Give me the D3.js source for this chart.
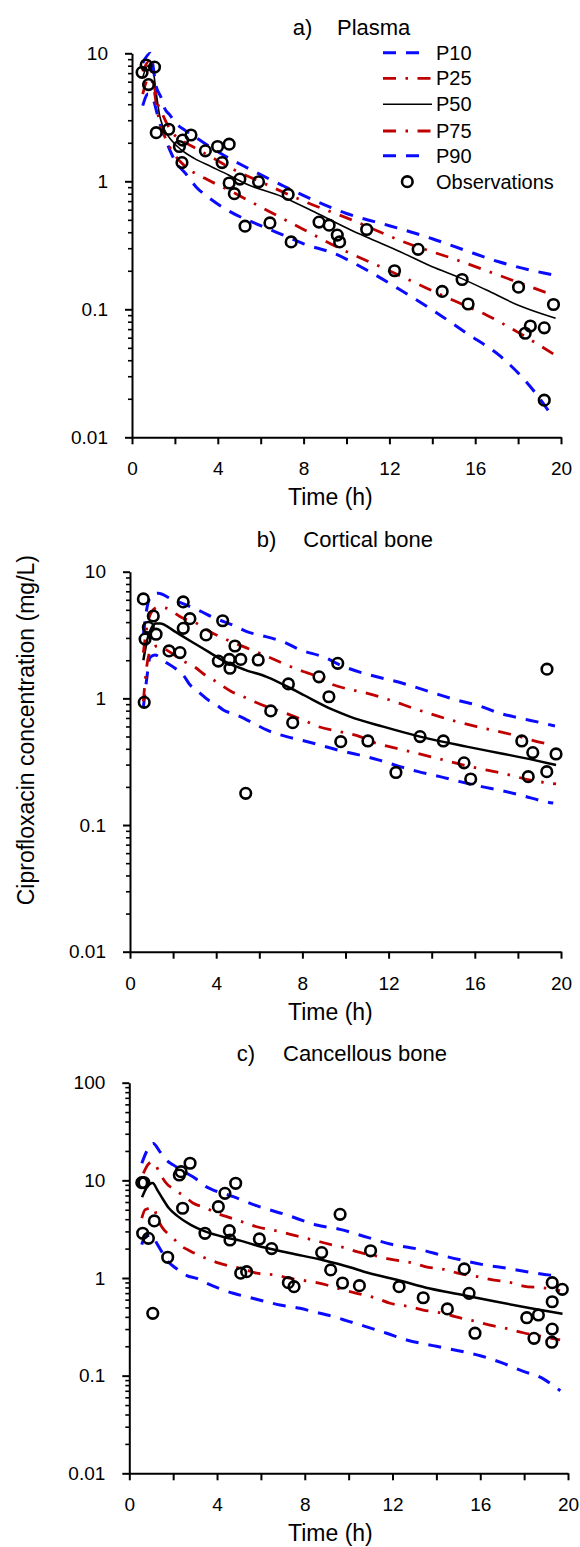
<!DOCTYPE html>
<html><head><meta charset="utf-8">
<script src="https://cdn.jsdelivr.net/npm/d3@7"></script>
<style>
body{margin:0;background:#fff}
svg{display:block}
text{font-family:"Liberation Sans",Arial,sans-serif;fill:#000}
</style></head><body>
<svg id="chart" width="580" height="1547"></svg>
<script>
// ---------- DATA ----------
const seriesNames = ["P10","P25","P50","P75","P90","Observations"];
const panelTitles = [["a)","Plasma"],["b)","Cortical bone"],["c)","Cancellous bone"]];
const xTickValues = [0,2,4,6,8,10,12,14,16,18,20];
const xTickLabels = ["0","","4","","8","","12","","16","","20"];
const yTicksAB = [0.01,0.1,1,10];
const yTickLabelsAB = ["0.01","0.1","1","10"];
const yTicksC = [0.01,0.1,1,10,100];
const yTickLabelsC = ["0.01","0.1","1","10","100"];
const xTitle = "Time (h)";
const yTitle = "Ciprofloxacin concentration (mg/L)";

// Panel a – plasma
const obsA = [[0.66,8.1],[1.05,7.8],[0.47,7.1],[0.77,5.7],[1.13,2.4],[1.71,2.55],[2.36,2.1],[2.21,1.87],[2.75,2.3],[2.33,1.4],[3.42,1.73],[3.99,1.87],[4.53,1.95],[4.2,1.4],[4.53,0.97],[5.03,1.04],[4.77,0.8],[5.9,0.99],[5.27,0.446],[6.43,0.473],[7.28,0.79],[7.42,0.336],[8.72,0.48],[9.19,0.454],[9.57,0.38],[9.68,0.336],[10.94,0.42],[12.24,0.2],[13.34,0.294],[14.46,0.138],[15.39,0.171],[15.67,0.11],[18.02,0.149],[18.57,0.074],[18.33,0.065],[19.22,0.0716],[19.65,0.109],[19.22,0.0195]];
const p10A = [[0.5,3.9],[0.75,4.8],[1.0,4.3],[1.25,3.0],[1.52,2.23],[1.76,1.76],[2.0,1.45],[2.5,1.15],[3.0,0.9],[3.6,0.74],[4.57,0.58],[6.0,0.45],[7.21,0.37],[8.0,0.325],[9.4,0.274],[11.0,0.2],[12.5,0.142],[14.0,0.099],[15.6,0.065],[17.2,0.0426],[18.7,0.0234],[19.5,0.0154]];
const p25A = [[0.5,4.8],[0.8,6.5],[1.0,5.5],[1.2,3.4],[1.5,2.3],[2.0,1.6],[2.5,1.3],[3.4,1.055],[4.5,0.855],[6.0,0.63],[8.0,0.42],[9.85,0.29],[12.0,0.2],[13.74,0.146],[15.0,0.117],[16.54,0.09],[18.0,0.066],[19.64,0.0448]];
const p50A = [[0.5,6.5],[0.75,8.0],[1.0,7.0],[1.13,4.9],[1.3,3.2],[1.45,2.67],[1.83,2.1],[2.3,1.76],[2.9,1.51],[3.7,1.3],[4.5,1.12],[5.25,0.964],[7.0,0.758],[8.6,0.565],[10.2,0.417],[10.9,0.369],[12.5,0.282],[14.0,0.215],[15.3,0.176],[16.5,0.142],[18.1,0.106],[19.75,0.085]];
const p75A = [[0.5,7.2],[0.8,8.7],[1.0,6.0],[1.21,4.0],[1.4,3.4],[1.8,2.5],[2.4,2.05],[3.0,1.8],[3.93,1.47],[4.48,1.3],[6.0,0.99],[8.0,0.7],[10.24,0.5],[12.65,0.337],[15.14,0.243],[17.93,0.164],[19.64,0.129]];
const p90A = [[0.5,8.4],[0.85,10.0],[1.13,5.5],[1.37,4.45],[1.52,3.72],[1.76,3.3],[2.14,2.75],[2.46,2.51],[3.14,2.11],[4.38,1.56],[5.47,1.25],[7.0,0.93],[8.57,0.7],[10.0,0.56],[12.0,0.45],[14.0,0.356],[15.5,0.29],[17.1,0.235],[19.2,0.192],[19.6,0.186]];

// Panel b – cortical bone
const obsB = [[0.62,6.1],[0.66,0.93],[0.7,2.94],[0.85,3.64],[1.08,4.47],[1.21,3.21],[1.81,2.37],[2.32,2.3],[2.47,5.77],[2.78,4.26],[2.47,3.57],[3.53,3.17],[4.3,4.1],[4.1,1.97],[4.61,2.03],[4.64,1.73],[4.87,2.59],[5.14,2.03],[5.95,2.01],[5.37,0.178],[6.53,0.796],[7.35,1.3],[7.55,0.643],[8.77,1.48],[9.23,1.03],[9.64,1.89],[9.78,0.455],[11.04,0.461],[12.34,0.26],[13.46,0.499],[14.54,0.461],[15.5,0.31],[15.81,0.231],[18.18,0.461],[18.69,0.373],[18.48,0.241],[19.34,0.264],[19.77,0.364],[19.35,1.7]];
const p10B = [[0.62,0.85],[0.77,1.4],[0.93,2.1],[1.16,2.2],[1.62,1.95],[2.09,1.73],[2.47,1.53],[2.78,1.28],[3.17,1.13],[3.63,0.97],[4.02,0.886],[4.33,0.81],[4.95,0.74],[5.88,0.617],[6.34,0.563],[7.27,0.499],[7.89,0.47],[8.51,0.442],[9.51,0.396],[10.44,0.364],[11.52,0.327],[12.53,0.289],[13.38,0.264],[14.39,0.241],[15.31,0.22],[16.32,0.201],[17.25,0.187],[18.25,0.17],[19.26,0.153],[19.64,0.149]];
const p25B = [[0.62,0.95],[0.8,1.9],[1.0,2.45],[1.3,2.6],[1.8,2.35],[2.4,2.0],[3.02,1.76],[3.48,1.53],[3.87,1.4],[4.72,1.13],[5.26,1.03],[6.34,0.859],[6.81,0.81],[8.2,0.655],[8.74,0.598],[9.74,0.546],[10.67,0.499],[11.22,0.455],[12.68,0.392],[14.23,0.337],[15.78,0.289],[17.17,0.259],[18.71,0.224],[19.77,0.211]];
const p50B = [[0.62,2.0],[0.8,2.9],[1.0,3.6],[1.2,3.9],[1.39,3.9],[2.09,3.36],[2.47,3.07],[2.86,2.8],[3.63,2.34],[4.41,1.95],[5.34,1.68],[6.34,1.48],[7.89,1.1],[9.43,0.81],[10.2,0.718],[11.75,0.598],[13.46,0.499],[15.62,0.416],[17.17,0.369],[18.71,0.327],[19.77,0.298]];
const p75B = [[0.62,2.3],[0.8,3.8],[1.0,4.8],[1.3,5.25],[1.6,5.2],[2.47,4.29],[2.94,4.03],[3.71,3.36],[4.18,3.07],[6.0,2.28],[8.04,1.63],[8.51,1.53],[9.43,1.28],[10.36,1.16],[10.98,1.1],[12.06,0.97],[13.15,0.835],[15.0,0.667],[16.09,0.598],[17.79,0.514],[19.1,0.447],[19.6,0.429]];
const p90B = [[0.62,3.2],[0.8,5.3],[1.0,6.5],[1.31,6.76],[1.86,6.17],[3.33,4.83],[3.79,4.41],[4.95,3.68],[5.42,3.36],[6.03,3.16],[7.27,2.72],[7.74,2.48],[9.13,2.07],[9.59,1.89],[11.45,1.48],[12.06,1.4],[15.47,0.94],[16.09,0.886],[17.17,0.762],[17.79,0.718],[19.18,0.636],[19.72,0.605]];

// Panel c – cancellous bone
const obsC = [[0.57,9.46],[0.67,9.46],[0.61,2.87],[0.87,2.55],[1.14,3.84],[1.07,0.435],[1.75,1.63],[2.28,11.35],[2.36,12.27],[2.77,14.96],[2.43,5.18],[3.45,2.87],[4.06,5.37],[4.36,7.36],[4.85,9.33],[4.56,3.05],[4.59,2.45],[5.08,1.12],[5.35,1.16],[5.93,2.51],[6.49,2.0],[7.25,0.895],[7.51,0.815],[8.77,1.82],[9.18,1.21],[9.61,4.49],[9.72,0.889],[10.49,0.834],[11.0,1.9],[12.3,0.815],[13.4,0.628],[14.5,0.482],[15.27,1.24],[15.49,0.697],[15.76,0.272],[18.12,0.392],[18.65,0.418],[19.28,0.895],[19.74,0.766],[19.28,0.571],[19.28,0.3],[18.45,0.241],[19.26,0.22]];
const p10C = [[0.57,2.2],[0.72,2.65],[1.02,2.75],[1.25,2.27],[1.48,1.86],[1.7,1.53],[1.93,1.36],[2.23,1.21],[2.62,1.06],[3.07,0.99],[3.53,0.883],[4.74,0.697],[5.35,0.643],[6.26,0.571],[6.87,0.528],[7.78,0.489],[8.39,0.452],[9.3,0.402],[10.0,0.36],[10.75,0.32],[11.73,0.272],[12.65,0.232],[14.0,0.2],[15.0,0.18],[16.0,0.16],[17.0,0.135],[18.0,0.11],[18.8,0.095],[19.3,0.08],[19.65,0.07]];
const p25C = [[0.57,4.1],[0.72,5.0],[1.12,5.27],[1.25,4.25],[1.48,3.35],[1.97,2.6],[2.36,2.13],[2.77,1.89],[3.25,1.68],[3.68,1.53],[4.13,1.41],[5.35,1.21],[5.81,1.12],[6.72,1.07],[7.18,1.01],[8.54,0.895],[9.0,0.848],[9.76,0.754],[10.37,0.697],[11.28,0.619],[11.89,0.551],[12.8,0.508],[13.4,0.47],[14.31,0.435],[14.85,0.402],[15.84,0.357],[16.44,0.33],[17.36,0.298],[17.96,0.275],[18.87,0.251],[19.64,0.232]];
const p50C = [[0.58,6.7],[0.8,8.5],[1.06,9.4],[1.3,7.8],[1.5,6.6],[1.8,5.2],[2.2,4.3],[2.8,3.5],[3.45,3.0],[4.4,2.6],[5.1,2.4],[5.8,2.15],[7.3,1.8],[8.8,1.53],[10.1,1.28],[10.7,1.16],[12.2,0.96],[13.7,0.78],[15.2,0.67],[16.75,0.57],[18.3,0.49],[19.75,0.43]];
const p75C = [[0.64,11.8],[0.85,14.5],[1.06,15.5],[1.4,11.8],[1.63,9.68],[2.08,7.96],[2.54,6.8],[2.92,5.82],[3.45,5.27],[3.98,4.6],[4.44,4.25],[5.35,3.63],[5.81,3.35],[6.87,2.98],[7.48,2.75],[8.69,2.35],[9.15,2.21],[9.91,2.01],[10.37,1.86],[11.43,1.65],[11.89,1.56],[12.95,1.42],[13.48,1.31],[14.47,1.21],[14.93,1.13],[15.91,1.03],[16.44,0.97],[17.51,0.883],[17.96,0.828],[19.03,0.785],[19.64,0.741]];
const p90C = [[0.57,14.95],[0.8,20],[1.09,23.9],[1.4,19.6],[1.7,16.1],[2.0,14.4],[2.62,11.8],[3.0,10.5],[3.37,8.96],[3.83,7.96],[4.29,7.36],[4.74,6.8],[5.8,5.5],[7.18,4.42],[8.54,3.49],[9.61,3.15],[10.9,2.59],[11.89,2.23],[13.33,1.94],[14.31,1.69],[15.3,1.5],[16.21,1.36],[17.2,1.26],[18.12,1.16],[19.18,1.07],[19.64,1.05]];

// ---------- LAYOUT / STYLE ----------
const BLUE = "#0a0aff", RED = "#c00000";
const styles = {
  P10:{color:BLUE, dash:"13,10", w:3},
  P25:{color:RED, dash:"13,9.5,2.5,9.5", w:2.8},
  P50:{color:"#000", dash:null, w:2.4},
  P75:{color:RED, dash:"13,9.5,2.5,9.5", w:2.8},
  P90:{color:BLUE, dash:"13,10", w:3}
};
const panels = [
  {title:panelTitles[0], tx:[292.7,337], ty:35, x0:132, x1:561, yt:53.3, yb:437.3, ymax:10, ticks:yTicksAB, labels:yTickLabelsAB, obs:obsA, lines:[p10A,p25A,p50A,p75A,p90A], blackW:1.6},
  {title:panelTitles[1], tx:[256.7,303.3], ty:547, x0:130, x1:561, yt:571.7, yb:951.7, ymax:10, ticks:yTicksAB, labels:yTickLabelsAB, obs:obsB, lines:[p10B,p25B,p50B,p75B,p90B], blackW:2.5},
  {title:panelTitles[2], tx:[236.7,283], ty:1061, x0:129.3, x1:568, yt:1082.7, yb:1473.3, ymax:100, ticks:yTicksC, labels:yTickLabelsC, obs:obsC, lines:[p10C,p25C,p50C,p75C,p90C], blackW:2.5}
];

const svg = d3.select("#chart");
const FONT = '"Liberation Sans",Arial,sans-serif';

panels.forEach(p => {
  const g = svg.append("g");
  const x = d3.scaleLinear().domain([0,20]).range([p.x0,p.x1]);
  const y = d3.scaleLog().domain([0.01,p.ymax]).range([p.yb,p.yt]);

  // title
  const t = g.append("text").attr("y",p.ty).attr("font-size",22);
  t.append("tspan").attr("x",p.tx[0]).text(p.title[0]);
  t.append("tspan").attr("x",p.tx[1]).text(p.title[1]);

  // minor y ticks
  const minor = [];
  for (let e=-2; e<Math.round(Math.log10(p.ymax)); e++)
    for (let k=2;k<=9;k++) minor.push(+(k*Math.pow(10,e)).toPrecision(3));
  const gm = g.append("g").attr("transform",`translate(${p.x0},0)`)
    .call(d3.axisLeft(y).tickValues(minor).tickSize(4).tickFormat(""));
  gm.select(".domain").remove();
  gm.selectAll("line").attr("stroke-width",1.6);

  // major y axis
  const gy = g.append("g").attr("transform",`translate(${p.x0},0)`)
    .call(d3.axisLeft(y).tickValues(p.ticks).tickSize(7).tickSizeOuter(0).tickPadding(17)
      .tickFormat((d,i)=>p.labels[i]));
  gy.attr("font-size",19).attr("font-family",FONT);
  gy.select(".domain").attr("stroke-width",2);
  gy.selectAll("line").attr("stroke-width",2);

  // x axis
  const gx = g.append("g").attr("transform",`translate(0,${p.yb})`)
    .call(d3.axisBottom(x).tickValues(xTickValues).tickSize(7).tickSizeOuter(0).tickPadding(17.5)
      .tickFormat((d,i)=>xTickLabels[i]));
  gx.attr("font-size",19).attr("font-family",FONT);
  gx.select(".domain").attr("stroke-width",2);
  gx.selectAll("line").attr("stroke-width",2);

  // x title
  g.append("text").attr("x",288).attr("y",p.yb+68).attr("font-size",23).text(xTitle);

  // percentile lines
  const line = d3.line().x(d=>x(d[0])).y(d=>y(d[1])).curve(d3.curveMonotoneX);
  p.lines.forEach((data,i) => {
    const st = styles[seriesNames[i]];
    g.append("path").datum(data).attr("d",line)
      .attr("fill","none").attr("stroke",st.color)
      .attr("stroke-width", seriesNames[i]==="P50" ? p.blackW : st.w)
      .attr("stroke-dasharray",st.dash);
  });

  // observations
  g.append("g").selectAll("circle").data(p.obs).join("circle")
    .attr("cx",d=>x(d[0])).attr("cy",d=>y(d[1])).attr("r",5.3)
    .attr("fill","none").attr("stroke","#000").attr("stroke-width",2.6);
});

// y title
svg.append("text").attr("transform","translate(33.5,555) rotate(-90)")
  .attr("text-anchor","end").attr("font-size",23).text(yTitle);

// legend
const legY = [52.7,78.3,104.3,131,155.7,181.7];
const lg = svg.append("g");
seriesNames.forEach((name,i) => {
  const yy = legY[i];
  if (name === "Observations") {
    lg.append("circle").attr("cx",407.3).attr("cy",yy).attr("r",5.3)
      .attr("fill","none").attr("stroke","#000").attr("stroke-width",2.6);
  } else {
    const st = styles[name];
    const xEnd = st.color===BLUE ? 419 : 432;
    lg.append("line").attr("x1",383).attr("x2",xEnd).attr("y1",yy).attr("y2",yy)
      .attr("stroke",st.color).attr("stroke-width",name==="P50"?1.6:st.w)
      .attr("stroke-dasharray",st.dash);
  }
  lg.append("text").attr("x",436).attr("y",yy+7).attr("font-size",20).text(name);
});
</script></body></html>
